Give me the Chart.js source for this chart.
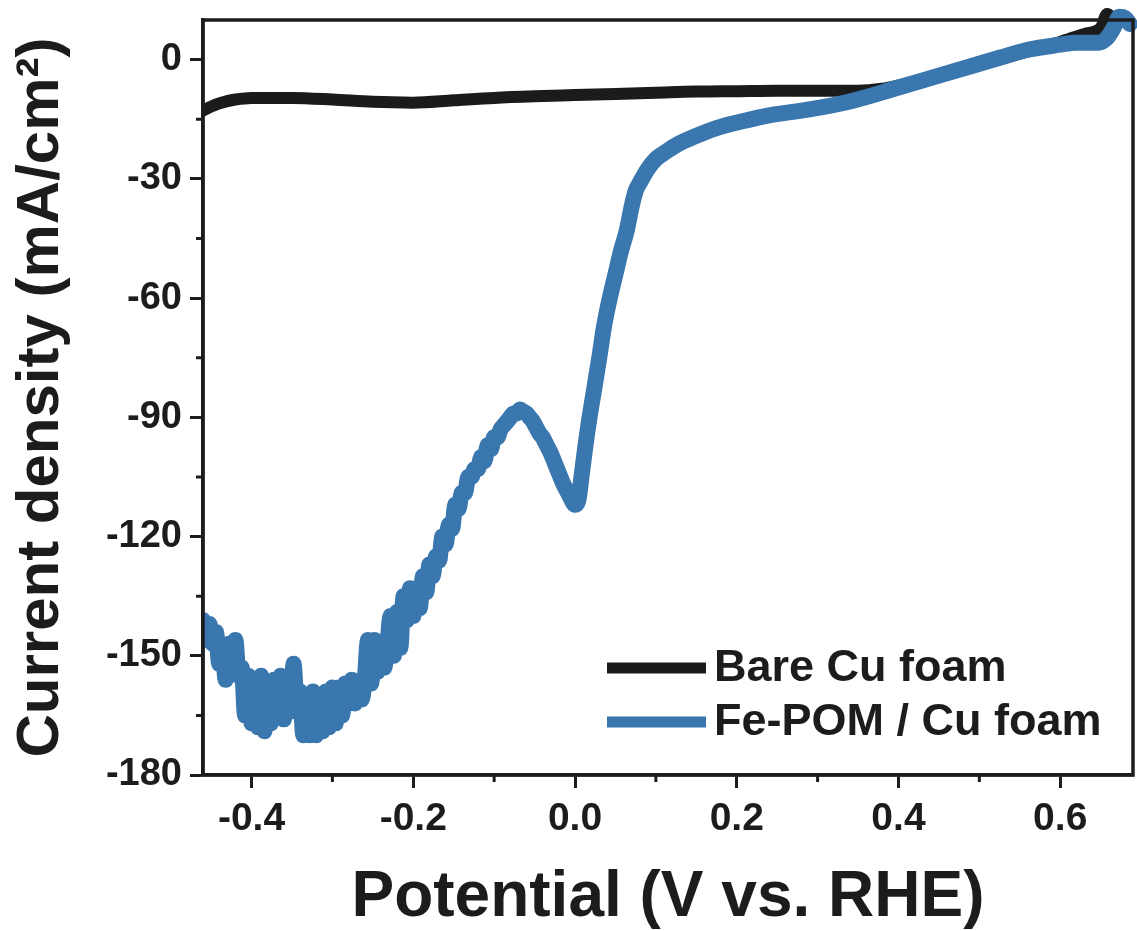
<!DOCTYPE html>
<html>
<head>
<meta charset="utf-8">
<script src="https://cdn.jsdelivr.net/npm/chart.js@4.4.1/dist/chart.umd.min.js"></script>
<style>
  html, body { margin: 0; padding: 0; background: #fff; }
</style>
</head>
<body>
<canvas id="chart" width="1137" height="931"></canvas>
<script>
// values
const bareV = [-0.46, -0.45, -0.44, -0.43, -0.42, -0.40, -0.35, -0.30, -0.25, -0.20, -0.15, -0.10, -0.05,
  0.00, 0.05, 0.10, 0.15, 0.20, 0.25, 0.30, 0.35, 0.38, 0.40, 0.45, 0.50, 0.55, 0.60, 0.63, 0.65, 0.658, 0.665, 0.67];
const bareJ = [-12.8, -11.8, -11.0, -10.4, -10.0, -9.6, -9.6, -10.0, -10.6, -10.8, -10.2, -9.6, -9.2,
  -8.9, -8.6, -8.3, -8.0, -7.9, -7.8, -7.8, -7.8, -7.3, -6.5, -4.0, -1.3, 1.5, 4.5, 6.5, 8.0, 11.5, 10.5, 9.5];

const feV = [-0.460, -0.456, -0.452, -0.448, -0.444, -0.440, -0.436, -0.432, -0.428, -0.424, -0.420, -0.416,
  -0.412, -0.408, -0.404, -0.400, -0.396, -0.392, -0.388, -0.384, -0.380, -0.376, -0.372, -0.368, -0.364,
  -0.360, -0.356, -0.352, -0.348, -0.344, -0.340, -0.336, -0.332, -0.328, -0.324, -0.320, -0.316, -0.312,
  -0.308, -0.304, -0.300, -0.296, -0.292, -0.288, -0.284, -0.280, -0.276, -0.272, -0.268, -0.264, -0.260,
  -0.256, -0.252, -0.248, -0.244, -0.240, -0.236, -0.232, -0.228, -0.224, -0.220, -0.216, -0.212, -0.208,
  -0.204, -0.200, -0.196, -0.192, -0.188, -0.184, -0.180, -0.176, -0.172, -0.168, -0.164, -0.160, -0.156,
  -0.152, -0.148, -0.144, -0.140, -0.136, -0.132, -0.128, -0.124, -0.120, -0.116, -0.112, -0.108, -0.104,
  -0.100, -0.096, -0.092, -0.088, -0.084, -0.080, -0.076, -0.072, -0.068, -0.064, -0.060, -0.056, -0.052,
  -0.048, -0.044, -0.040, -0.035, -0.030, -0.025, -0.020, -0.015, -0.010, -0.005, 0.000, 0.004, 0.008,
  0.013, 0.018, 0.022, 0.030, 0.036, 0.043, 0.050, 0.057, 0.064, 0.070, 0.075, 0.080, 0.090, 0.100, 0.110,
  0.125, 0.146, 0.175, 0.207, 0.240, 0.290, 0.340, 0.400, 0.450, 0.500, 0.525, 0.560, 0.600, 0.620, 0.648,
  0.658, 0.666, 0.673, 0.680, 0.686];
const feJ = [-141, -146, -142, -147, -144, -152, -148, -156, -147, -153, -146, -155,
  -153, -165, -155, -167, -156, -168, -155, -169, -157, -167, -156, -165, -155,
  -166, -158, -164, -152, -163, -159, -170, -160, -170, -159, -170, -160, -169,
  -159, -168, -158, -167, -158, -165, -157, -162, -156, -162, -157, -161, -156,
  -146, -157, -146, -154, -148, -153, -147, -140, -150, -139, -148, -135, -141,
  -133, -140, -133, -138, -130, -134, -127, -130, -125, -126, -120, -122, -117,
  -118, -112, -113, -109, -109, -105, -105, -103, -103, -100, -101, -97, -98,
  -95, -95, -93, -92, -91, -90, -89, -89, -88, -88.5, -89, -90, -91,
  -92.5, -94, -95, -97, -99, -101.5, -104, -106.5, -108.5, -110.5, -112, -111, -105,
  -97, -90, -85, -75, -67, -60, -54, -48, -43, -37, -33, -31, -27.5, -25, -23.5,
  -21.5, -19.5, -17.2, -15.5, -14, -12.5, -10.5, -7, -4, -1, 0.5, 2.5, 3.8, 4.3, 4.3,
  5.5, 8, 10.8, 10.5, 9];

const xTicks = [-0.4, -0.2, 0.0, 0.2, 0.4, 0.6];
const xMinor = [-0.3, -0.1, 0.1, 0.3, 0.5];
const yTicks = [-180, -150, -120, -90, -60, -30, 0];
const yMinor = [-165, -135, -105, -75, -45, -15];

const ink = '#1c1c1c';
const FONT = "'Liberation Sans', Arial, sans-serif";

function toPoints(xs, ys) {
    return xs.map((x, i) => ({ x: x, y: ys[i] }));
}

// minor ticks, outer box and the legend in the lower right of the plot
const decorations = {
    id: 'decorations',
    afterDraw(chart) {
        const { ctx, chartArea: a, scales } = chart;
        ctx.save();
        ctx.strokeStyle = ink;
        ctx.lineWidth = 3;
        ctx.beginPath();
        xMinor.forEach(v => {
            const px = scales.x.getPixelForValue(v);
            ctx.moveTo(px, a.bottom);
            ctx.lineTo(px, a.bottom + 7);
        });
        yMinor.forEach(v => {
            const py = scales.y.getPixelForValue(v);
            ctx.moveTo(a.left, py);
            ctx.lineTo(a.left - 7, py);
        });
        ctx.stroke();

        ctx.lineWidth = 3.5;
        ctx.strokeRect(a.left, a.top, a.right - a.left, a.bottom - a.top);

        // legend
        const rows = [668, 722];
        ctx.font = 'bold 45px ' + FONT;
        ctx.textBaseline = 'middle';
        chart.data.datasets.forEach((ds, i) => {
            ctx.strokeStyle = ds.borderColor;
            ctx.lineWidth = 11;
            ctx.beginPath();
            ctx.moveTo(607, rows[i]);
            ctx.lineTo(706, rows[i]);
            ctx.stroke();
            ctx.fillStyle = ink;
            ctx.fillText(ds.label, 714, rows[i] + 1);
        });
        ctx.restore();
    }
};

const ctx = document.getElementById('chart').getContext('2d');
const chart = new Chart(ctx, {
    type: 'line',
    data: {
        datasets: [{
            label: 'Bare Cu foam',
            data: toPoints(bareV, bareJ),
            borderColor: '#1b1b1b',
            borderWidth: 12,
            order: 1,
            clip: { left: 0, top: 12, right: 4, bottom: 0 }
        }, {
            label: 'Fe-POM / Cu foam',
            data: toPoints(feV, feJ),
            borderColor: '#3a77ae',
            borderWidth: 16,
            order: 0,
            clip: { left: 0, top: 12, right: 4, bottom: 0 }
        }]
    },
    options: {
        responsive: false,
        animation: false,
        layout: { padding: { top: 20, right: 4, left: 0, bottom: 0 } },
        elements: {
            point: { radius: 0 },
            line: { cubicInterpolationMode: 'monotone', borderJoinStyle: 'round', borderCapStyle: 'round' }
        },
        plugins: {
            legend: { display: false },
            tooltip: { enabled: false }
        },
        scales: {
            x: {
                type: 'linear',
                min: -0.46,
                max: 0.69,
                afterBuildTicks: s => { s.ticks = xTicks.map(v => ({ value: v })); },
                afterFit: s => { s.height = 156; s.paddingLeft = 0; s.paddingRight = 0; },
                grid: { drawOnChartArea: false, tickLength: 13, tickWidth: 3, tickColor: ink },
                border: { width: 3.5, color: ink },
                ticks: {
                    color: ink,
                    padding: 8,
                    maxRotation: 0,
                    font: { family: FONT, weight: 'bold', size: 39 },
                    callback: v => v.toFixed(1)
                },
                title: {
                    display: true,
                    text: 'Potential (V vs. RHE)',
                    color: ink,
                    font: { family: FONT, weight: 'bold', size: 64, lineHeight: 1 },
                    padding: { top: 0, bottom: 1 }
                }
            },
            y: {
                type: 'linear',
                min: -180,
                max: 10,
                afterBuildTicks: s => { s.ticks = yTicks.map(v => ({ value: v })); },
                afterFit: s => { s.width = 203; s.paddingTop = 0; s.paddingBottom = 0; },
                grid: { drawOnChartArea: false, tickLength: 13, tickWidth: 3, tickColor: ink },
                border: { width: 3.5, color: ink },
                ticks: {
                    color: ink,
                    padding: 8,
                    font: { family: FONT, weight: 'bold', size: 38 },
                    callback: v => String(v)
                },
                title: {
                    display: true,
                    text: 'Current density (mA/cm²)',
                    color: ink,
                    font: { family: FONT, weight: 'bold', size: 60, lineHeight: 1 },
                    padding: { top: 11, bottom: 0 }
                }
            }
        }
    },
    plugins: [decorations]
});
</script>
</body>
</html>
